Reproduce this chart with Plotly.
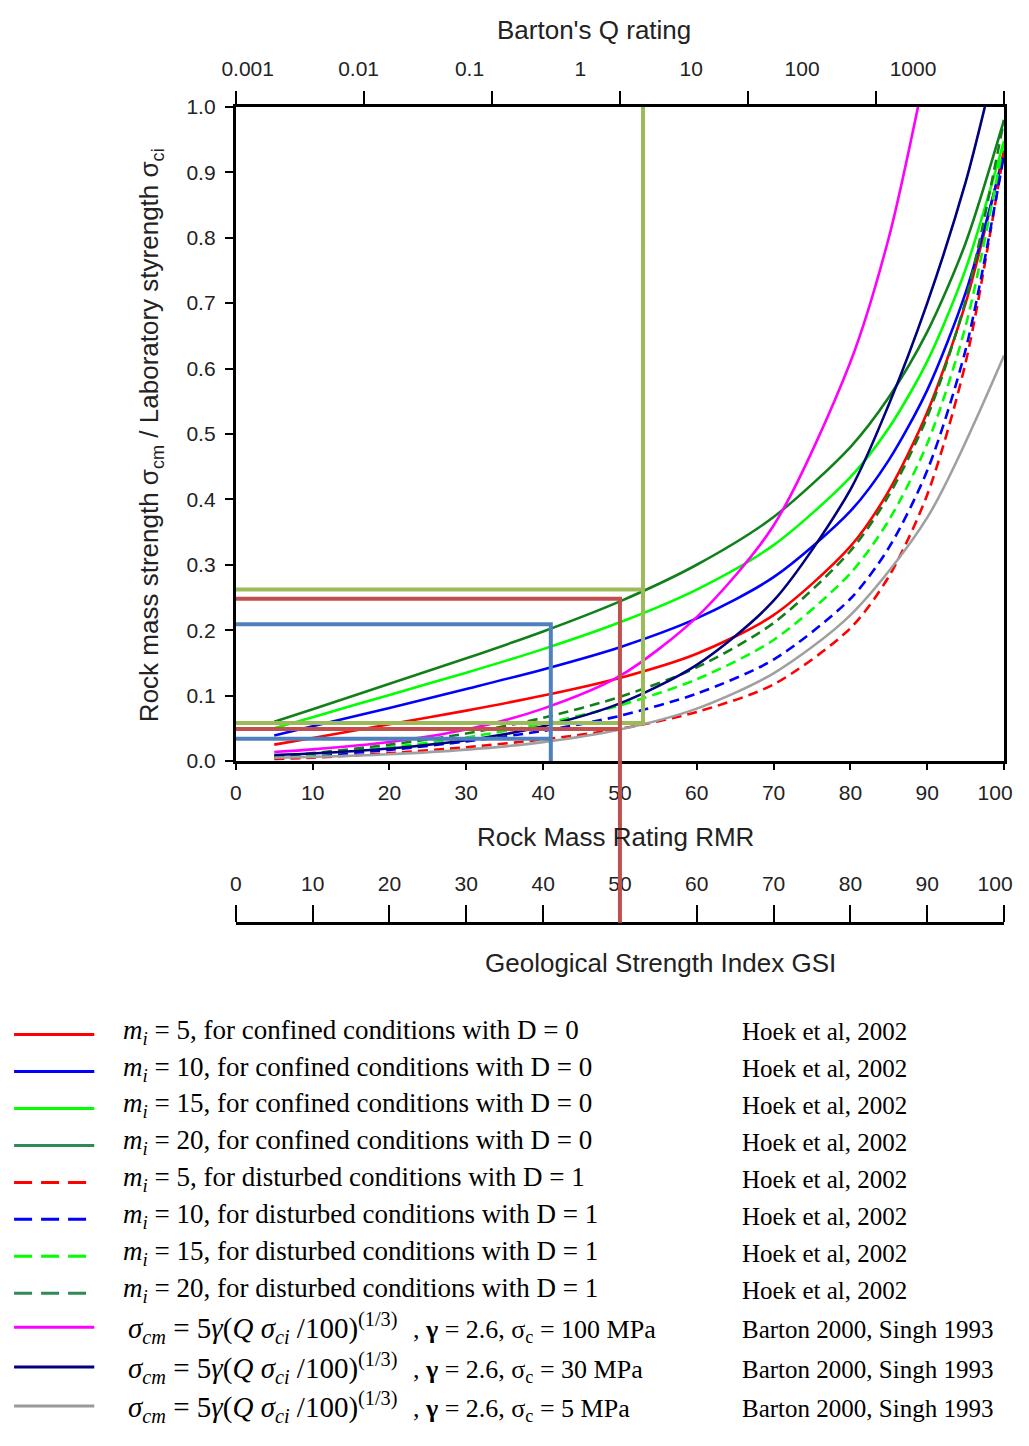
import plotly.graph_objects as go

# Figure is kept inside the 1029x1446 window (8px page margin on every side).
W, H = 1013, 1430
BODY = 8


def px_x(p):
    """reference picture x (px) -> paper fraction"""
    return ((p - 12.1) / 0.9872 - BODY) / W


def px_y(p):
    """reference picture y (px) -> paper fraction"""
    return 1 - ((p - 10.1) / 0.9853 - BODY) / H


# ---------------- data ----------------
rmr_hoek = [5, 10, 20, 30, 40, 50, 60, 70, 80, 85, 90, 95, 100]
conf_mi5  = [0.025, 0.035, 0.056, 0.077, 0.100, 0.127, 0.164, 0.223, 0.328, 0.413, 0.533, 0.700, 0.933]
conf_mi10 = [0.039, 0.053, 0.081, 0.110, 0.140, 0.174, 0.218, 0.281, 0.382, 0.460, 0.567, 0.716, 0.927]
conf_mi15 = [0.050, 0.067, 0.101, 0.135, 0.171, 0.212, 0.262, 0.330, 0.434, 0.509, 0.611, 0.752, 0.948]
conf_mi20 = [0.060, 0.079, 0.118, 0.157, 0.198, 0.244, 0.300, 0.373, 0.480, 0.556, 0.656, 0.792, 0.980]
dist_mi5  = [0.003, 0.005, 0.012, 0.021, 0.033, 0.049, 0.075, 0.117, 0.203, 0.282, 0.407, 0.609, 0.933]
dist_mi10 = [0.005, 0.008, 0.017, 0.030, 0.046, 0.069, 0.103, 0.155, 0.248, 0.326, 0.444, 0.629, 0.927]
dist_mi15 = [0.006, 0.010, 0.021, 0.036, 0.057, 0.085, 0.125, 0.185, 0.287, 0.368, 0.485, 0.665, 0.948]
dist_mi20 = [0.007, 0.012, 0.025, 0.042, 0.066, 0.098, 0.143, 0.211, 0.321, 0.406, 0.526, 0.704, 0.980]

rmr_b100 = [5, 10, 20, 30, 40, 50, 60, 70, 80, 85, 88.8]
barton_100 = [0.0137, 0.0177, 0.029, 0.048, 0.080, 0.130, 0.220, 0.360, 0.610, 0.800, 1.0]
rmr_b30 = [5, 10, 20, 30, 40, 50, 60, 70, 80, 85, 90, 95, 97.5]
barton_30 = [0.009, 0.0114, 0.019, 0.0316, 0.053, 0.088, 0.147, 0.245, 0.415, 0.545, 0.700, 0.885, 1.0]
rmr_b5 = [5, 10, 20, 30, 40, 50, 60, 70, 80, 90, 100]
barton_5 = [0.005, 0.0062, 0.0103, 0.0173, 0.0288, 0.048, 0.080, 0.134, 0.223, 0.372, 0.620]

# guide lines (read-off examples)
green_x, green_hi, green_lo = 53, 0.262, 0.058
red_x, red_hi, red_lo = 50, 0.248, 0.049
blue_x, blue_hi, blue_lo = 41, 0.209, 0.034

rmr_ticks = list(range(0, 101, 10))
rmr_text = [str(v) for v in range(0, 100, 10)] + [""]   # "100" drawn by its own axis
gsi_ticks = list(range(0, 101, 10))
gsi_text = [str(v) for v in range(0, 100, 10)] + [""]
end_tick, end_text = [100], ["100"]
y_ticks = [round(0.1 * i, 1) for i in range(11)]
q_ticks = [0.001, 0.01, 0.1, 1, 10, 100, 1000]
q_labels = ["0.001", "0.01", "0.1", "1", "10", "100", "1000"]

hoek_texts = [
    "<i>m<sub>i</sub></i> = 5, for confined conditions with D = 0",
    "<i>m<sub>i</sub></i> = 10, for confined conditions with D = 0",
    "<i>m<sub>i</sub></i> = 15, for confined conditions with D = 0",
    "<i>m<sub>i</sub></i> = 20, for confined conditions with D = 0",
    "<i>m<sub>i</sub></i> = 5, for disturbed conditions with D = 1",
    "<i>m<sub>i</sub></i> = 10, for disturbed conditions with D = 1",
    "<i>m<sub>i</sub></i> = 15, for disturbed conditions with D = 1",
    "<i>m<sub>i</sub></i> = 20, for disturbed conditions with D = 1",
]
barton_formula = "<i>σ<sub>cm</sub></i> = 5<i>γ</i>(<i>Q σ<sub>ci</sub></i> /100)<sup>(1/3)</sup>"
barton_params = [", <b>γ</b> = 2.6, σ<sub>c</sub> = 100 MPa",
                 ", <b>γ</b> = 2.6, σ<sub>c</sub> = 30 MPa",
                 ", <b>γ</b> = 2.6, σ<sub>c</sub> = 5 MPa"]
legend_refs = ["Hoek et al, 2002"] * 8 + ["Barton 2000, Singh 1993"] * 3
legend_colors = ["#FF0000", "#0000FF", "#00FF00", "#2E8B57",
                 "#FF0000", "#0000FF", "#00FF00", "#2E8B57",
                 "#FF00FF", "#000080", "#999999"]
legend_dashed = [False] * 4 + [True] * 4 + [False] * 3

RED, BLUE, LGREEN, DGREEN = "#FF0000", "#0000FF", "#00FF00", "#11801A"
MAGENTA, NAVY, GRAY = "#FF00FF", "#000080", "#A0A0A0"
DASH = "10px,6px"

fig = go.Figure()

series = [
    (rmr_hoek, conf_mi5, RED, "solid"),
    (rmr_hoek, conf_mi10, BLUE, "solid"),
    (rmr_hoek, conf_mi15, LGREEN, "solid"),
    (rmr_hoek, conf_mi20, DGREEN, "solid"),
    (rmr_hoek, dist_mi5, RED, DASH),
    (rmr_hoek, dist_mi10, BLUE, DASH),
    (rmr_hoek, dist_mi15, LGREEN, DASH),
    (rmr_hoek, dist_mi20, DGREEN, DASH),
    (rmr_b100, barton_100, MAGENTA, "solid"),
    (rmr_b30, barton_30, NAVY, "solid"),
    (rmr_b5, barton_5, GRAY, "solid"),
]
for xs, ys, c, d in series:
    fig.add_trace(go.Scatter(x=xs, y=ys, mode="lines",
                             line=dict(color=c, width=2.6, dash=d, shape="spline", smoothing=0.8),
                             showlegend=False, hoverinfo="skip"))

# guide lines
fig.add_trace(go.Scatter(x=[0, green_x, None, 0, green_x, green_x],
                         y=[green_hi, green_hi, None, green_lo, green_lo, 1.0],
                         mode="lines", line=dict(color="#9BBB59", width=4),
                         showlegend=False, hoverinfo="skip"))
fig.add_trace(go.Scatter(x=[0, red_x, red_x, None, 0, red_x],
                         y=[red_hi, red_hi, 0, None, red_lo, red_lo],
                         mode="lines", line=dict(color="#C0504D", width=4),
                         showlegend=False, hoverinfo="skip"))
fig.add_trace(go.Scatter(x=[0, blue_x, blue_x, None, 0, blue_x],
                         y=[blue_hi, blue_hi, 0, None, blue_lo, blue_lo],
                         mode="lines", line=dict(color="#4F81BD", width=4),
                         showlegend=False, hoverinfo="skip"))

AX_FONT = dict(family="Liberation Sans, Arial, sans-serif", size=21, color="#222222")
TITLE_FONT = dict(family="Liberation Sans, Arial, sans-serif", size=26, color="#222222")

plot_x0, plot_x1 = px_x(236), px_x(1012)
plot_y0, plot_y1 = px_y(760), px_y(105)
gsi_pos = px_y(922)

common = dict(showgrid=False, zeroline=False)
fig.update_layout(
    width=W, height=H, margin=dict(l=0, r=0, t=0, b=0),
    paper_bgcolor="white", plot_bgcolor="white",
    xaxis=dict(domain=[plot_x0, plot_x1], range=[0, 100], tickvals=rmr_ticks,
               ticktext=rmr_text, ticks="outside", ticklen=6, tickwidth=1.5,
               tickcolor="black", showline=True, linewidth=3, linecolor="black",
               mirror=True, tickfont=AX_FONT, ticklabelstandoff=5, anchor="y", **common),
    yaxis=dict(domain=[plot_y0, plot_y1], range=[0, 1], tickvals=y_ticks,
               tickformat=".1f", ticks="outside", ticklen=8, tickwidth=2, tickcolor="black",
               showline=True, linewidth=3, linecolor="black", mirror=True,
               tickfont=AX_FONT, ticklabelstandoff=5, anchor="x", **common),
    xaxis2=dict(overlaying="x", side="top", type="log", range=[-3, 3], tickvals=q_ticks,
                showticklabels=False, ticks="outside", ticklen=15, tickwidth=2,
                tickcolor="black", showline=False, anchor="y", **common),
    xaxis3=dict(overlaying="x", side="top", type="log", range=[-3.107, 3.821],
                tickvals=q_ticks, ticktext=q_labels, ticks="", showline=False,
                tickfont=AX_FONT, ticklabelstandoff=26, ticklabeloverflow="allow",
                anchor="y", **common),
    xaxis4=dict(overlaying="x", side="top", anchor="free", position=gsi_pos,
                range=[0, 100], tickvals=gsi_ticks, ticktext=gsi_text, ticks="outside",
                ticklen=17, tickwidth=2, tickcolor="black", showline=True, linewidth=2.5,
                linecolor="black", tickfont=AX_FONT, ticklabelstandoff=6, **common),
    xaxis5=dict(overlaying="x", side="bottom", anchor="y", range=[0, 100],
                tickvals=end_tick, ticktext=end_text, ticks="", showline=False,
                tickfont=AX_FONT, ticklabelstandoff=17, ticklabelshift=-9,
                ticklabeloverflow="allow", **common),
    xaxis6=dict(overlaying="x", side="top", anchor="free", position=gsi_pos,
                range=[0, 100], tickvals=end_tick, ticktext=end_text, ticks="",
                showline=False, tickfont=AX_FONT, ticklabelstandoff=28,
                ticklabelshift=-9, ticklabeloverflow="allow", **common),
)

# dummy traces so overlay axes are realised
for ax_id, xv in (("x2", 1), ("x3", 1), ("x4", 50), ("x5", 50), ("x6", 50)):
    fig.add_trace(go.Scatter(x=[xv], y=[None], xaxis=ax_id, showlegend=False, hoverinfo="skip"))

# red guide continues down to the GSI scale
fig.add_shape(type="line", xref="x", yref="paper", x0=red_x, x1=red_x,
              y0=plot_y0, y1=gsi_pos, line=dict(color="#C0504D", width=4), layer="above")

ann = []
ann.append(dict(text="Barton's Q rating", x=px_x(598), y=px_y(28), xref="paper", yref="paper",
                showarrow=False, font=TITLE_FONT, xanchor="center", yanchor="middle"))
ann.append(dict(text="Rock Mass Rating RMR", x=px_x(620), y=px_y(836), xref="paper", yref="paper",
                showarrow=False, font=TITLE_FONT, xanchor="center", yanchor="middle"))
ann.append(dict(text="Geological Strength Index GSI", x=px_x(665), y=px_y(962), xref="paper",
                yref="paper", showarrow=False, font=TITLE_FONT, xanchor="center", yanchor="middle"))
ann.append(dict(text="Rock mass strength σ<sub>cm</sub> / Laboratory styrength σ<sub>ci</sub>",
                x=px_x(150), y=px_y(434), xref="paper", yref="paper", textangle=-90,
                showarrow=False, font=TITLE_FONT, xanchor="center", yanchor="middle"))

LEG_FONT = dict(family="Liberation Serif, Times New Roman, serif", size=27, color="black")
REF_FONT = dict(family="Liberation Serif, Times New Roman, serif", size=25, color="black")
PAR_FONT = dict(family="Liberation Serif, Times New Roman, serif", size=26, color="black")
FORM_FONT = dict(family="Liberation Serif, Times New Roman, serif", size=29, color="black")
row_line_y = [1034, 1071, 1108, 1145, 1182, 1219, 1256, 1293, 1327, 1367, 1406]
row_text_y = [1031, 1068, 1105, 1142, 1179, 1216, 1253, 1290, 1331, 1371, 1410]
for i in range(11):
    fig.add_shape(type="line", xref="paper", yref="paper", x0=px_x(12),
                  x1=px_x(86 if legend_dashed[i] else 93), y0=px_y(row_line_y[i]),
                  y1=px_y(row_line_y[i]),
                  line=dict(color=legend_colors[i], width=3,
                            dash="18px,9px" if legend_dashed[i] else "solid"))
    if i < 8:
        ann.append(dict(text=hoek_texts[i], x=px_x(120), y=px_y(row_text_y[i]), xref="paper",
                        yref="paper", showarrow=False, font=LEG_FONT, xanchor="left",
                        yanchor="middle"))
        ref_y = row_text_y[i]
    else:
        ann.append(dict(text=barton_formula, x=px_x(125), y=px_y(row_text_y[i] - 3), xref="paper",
                        yref="paper", showarrow=False, font=FORM_FONT, xanchor="left",
                        yanchor="middle"))
        ann.append(dict(text=barton_params[i - 8], x=px_x(413), y=px_y(row_text_y[i]),
                        xref="paper", yref="paper", showarrow=False, font=PAR_FONT,
                        xanchor="left", yanchor="middle"))
        ref_y = row_text_y[i] - 2
    ann.append(dict(text=legend_refs[i], x=px_x(745), y=px_y(ref_y),
                    xref="paper", yref="paper", showarrow=False, font=REF_FONT,
                    xanchor="left", yanchor="middle"))
fig.update_layout(annotations=ann)

fig.write_html("out.html")
